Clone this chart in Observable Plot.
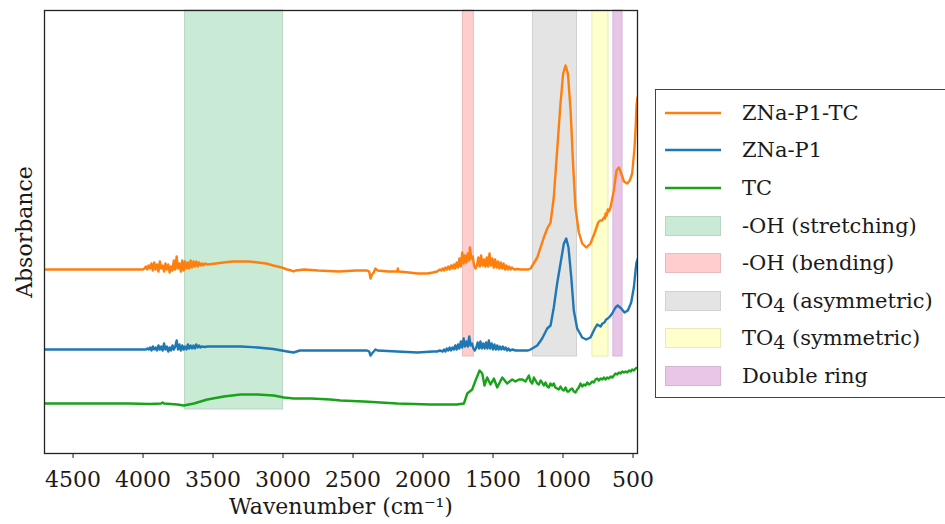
<!DOCTYPE html>
<html>
<head>
<meta charset="utf-8">
<script src="https://cdn.jsdelivr.net/npm/d3@7"></script>
<script src="https://cdn.jsdelivr.net/npm/@observablehq/plot@0.6"></script>
<style>
  html, body { margin: 0; padding: 0; background: #fff; overflow: hidden; }
  #wrap { position: relative; width: 945px; height: 524px; overflow: hidden; }
  #legend { position: absolute; left: 655px; top: 89px; width: 320px; height: 309px;
    border: 1.5px solid #444; background: #fff; box-sizing: border-box; padding-top: 4px;
    font-family: "DejaVu Serif", serif; font-size: 21px; color: #1a1a1a; }
  .entry { height: 37.6px; display: flex; align-items: center; }
  .entry svg { margin-left: 9px; margin-right: 21px; flex: none; }
  .entry sub { font-size: 0.9em; vertical-align: -0.22em; line-height: 0; }
</style>
</head>
<body>
<div id="wrap"><div id="chart"></div><div id="legend"></div></div>
<script>
// ---- Data (wavenumber cm^-1, absorbance a.u., offset spectra) ----
const seriesNames = ["ZNa-P1-TC", "ZNa-P1", "TC"];
const seriesColors = ["#ff7f0e", "#1f77b4", "#18a318"];

const znaP1TC = [
  [4704,1.84],[4000,1.84],
  [3990,1.85],[3980,1.87],[3970,1.84],[3960,1.88],[3950,1.85],[3940,1.90],[3930,1.83],[3920,1.91],[3910,1.84],[3900,1.89],
  [3890,1.82],[3880,1.92],[3870,1.85],[3860,1.88],[3850,1.82],[3840,1.90],[3830,1.84],[3820,1.89],[3810,1.81],[3800,1.87],
  [3790,1.83],[3780,1.93],[3770,1.84],[3760,1.97],[3750,1.85],[3740,1.90],[3730,1.82],[3720,1.93],[3710,1.83],[3700,1.92],
  [3690,1.85],[3680,1.91],[3670,1.85],[3660,1.93],[3650,1.86],[3640,1.92],[3630,1.87],[3620,1.92],[3610,1.87],[3600,1.91],
  [3590,1.88],[3580,1.90],[3570,1.88],[3560,1.90],[3540,1.89],
  [3480,1.90],[3425,1.91],[3360,1.92],[3300,1.92],[3240,1.92],[3180,1.91],[3120,1.90],[3070,1.88],[3010,1.86],[2970,1.84],
  [2940,1.83],[2925,1.82],[2910,1.83],[2850,1.84],[2750,1.83],[2600,1.82],[2480,1.83],[2400,1.83],[2385,1.82],[2375,1.75],
  [2365,1.79],[2352,1.81],[2340,1.85],[2325,1.83],[2250,1.82],[2185,1.82],[2180,1.85],[2175,1.82],[2100,1.81],[2040,1.80],
  [1970,1.80],[1930,1.81],
  [1900,1.82],[1880,1.84],[1870,1.83],[1860,1.85],[1850,1.83],[1840,1.86],[1830,1.84],[1820,1.87],[1810,1.84],[1800,1.88],
  [1790,1.85],[1780,1.89],[1770,1.85],[1760,1.91],[1750,1.86],[1740,1.95],[1730,1.87],[1720,2.01],[1710,1.90],[1700,1.98],
  [1690,1.91],[1680,2.00],[1670,1.93],[1665,2.06],[1655,1.95],[1645,1.97],[1635,1.88],[1625,1.85],[1615,1.88],[1605,1.96],
  [1595,1.87],[1585,1.98],[1575,1.88],[1565,1.94],[1555,1.87],[1545,1.96],[1535,1.87],[1525,2.00],[1515,1.88],[1505,1.95],
  [1495,1.86],[1485,1.94],[1475,1.86],[1465,1.92],[1455,1.85],[1445,1.91],[1435,1.85],[1425,1.90],[1415,1.84],[1405,1.88],
  [1395,1.84],[1385,1.87],[1375,1.84],[1365,1.86],[1350,1.84],[1330,1.845],[1300,1.84],[1250,1.84],
  [1232,1.85],[1184,1.96],[1137,2.16],[1113,2.25],[1089,2.31],[1066,2.56],[1042,3.03],[1018,3.50],[999,3.80],[982,3.88],
  [965,3.80],[946,3.43],[927,2.86],[911,2.46],[887,2.21],[863,2.10],[834,2.06],[804,2.10],[773,2.21],[749,2.31],
  [735,2.33],[720,2.33],[708,2.36],[700,2.35],[696,2.40],[688,2.38],[680,2.44],[672,2.42],[661,2.46],[637,2.63],
  [618,2.83],[601,2.86],[584,2.80],[565,2.72],[541,2.70],[523,2.73],[506,2.80],[489,3.06],[480,3.30],[475,3.48],[468,3.56]
];

const znaP1 = [
  [4704,1.04],[3980,1.04],
  [3970,1.05],[3960,1.04],[3950,1.06],[3940,1.03],[3930,1.07],[3920,1.04],[3910,1.06],[3900,1.03],[3890,1.08],[3880,1.04],
  [3870,1.07],[3860,1.03],[3850,1.10],[3840,1.04],[3830,1.07],[3820,1.02],[3810,1.06],[3800,1.03],[3790,1.08],[3780,1.04],
  [3770,1.07],[3760,1.13],[3750,1.04],[3740,1.09],[3730,1.03],[3720,1.08],[3710,1.04],[3700,1.07],[3690,1.04],[3680,1.09],
  [3670,1.05],[3660,1.08],[3650,1.05],[3640,1.08],[3630,1.05],[3620,1.09],[3610,1.06],[3600,1.08],[3590,1.06],[3580,1.07],
  [3560,1.065],[3540,1.07],
  [3480,1.07],[3425,1.07],[3300,1.07],[3180,1.06],[3070,1.045],[2970,1.02],[2925,1.01],[2880,1.03],[2750,1.03],[2600,1.03],
  [2400,1.03],[2385,1.02],[2375,0.98],[2365,1.00],[2352,1.02],[2340,1.04],[2325,1.03],[2185,1.02],[2040,1.01],[1930,1.02],
  [1900,1.02],[1880,1.03],[1860,1.02],[1850,1.04],[1840,1.02],[1830,1.05],[1820,1.03],[1810,1.06],[1800,1.03],[1790,1.06],
  [1780,1.04],[1770,1.08],[1760,1.04],[1750,1.09],[1740,1.05],[1730,1.12],[1720,1.06],[1710,1.15],[1700,1.07],[1690,1.12],
  [1680,1.07],[1670,1.17],[1660,1.08],[1650,1.10],[1640,1.05],[1630,1.03],[1620,1.06],[1610,1.11],[1600,1.05],[1590,1.12],
  [1580,1.05],[1570,1.10],[1560,1.05],[1550,1.11],[1540,1.05],[1530,1.13],[1520,1.05],[1510,1.10],[1500,1.04],[1490,1.09],
  [1480,1.04],[1470,1.08],[1460,1.04],[1450,1.07],[1440,1.04],[1430,1.07],[1420,1.04],[1410,1.06],[1400,1.03],[1390,1.05],
  [1380,1.03],[1360,1.04],[1340,1.03],[1300,1.03],[1250,1.03],
  [1232,1.04],[1184,1.08],[1149,1.15],[1113,1.25],[1089,1.28],[1066,1.46],[1042,1.70],[1018,1.90],[994,2.10],[977,2.15],
  [961,2.06],[941,1.76],[923,1.43],[899,1.25],[863,1.16],[834,1.14],[804,1.16],[773,1.25],[756,1.29],[744,1.28],
  [732,1.27],[718,1.30],[704,1.31],[692,1.34],[680,1.35],[665,1.37],[649,1.40],[625,1.46],[609,1.48],[584,1.45],
  [561,1.41],[537,1.43],[513,1.51],[494,1.66],[482,1.83],[475,1.91],[468,1.94]
];

const tc = [
  [4704,0.50],[4100,0.50],[3950,0.495],[3870,0.50],[3860,0.51],[3850,0.50],[3756,0.49],[3709,0.48],[3637,0.50],[3541,0.54],
  [3423,0.57],[3304,0.59],[3184,0.59],[3066,0.58],[2994,0.56],[2923,0.55],[2800,0.55],[2661,0.54],[2589,0.53],[2423,0.52],
  [2184,0.50],[1946,0.49],[1756,0.49],[1708,0.50],[1684,0.60],[1649,0.64],[1625,0.73],[1596,0.83],[1577,0.80],[1561,0.68],
  [1542,0.76],[1518,0.69],[1494,0.75],[1470,0.66],[1434,0.76],[1399,0.70],[1363,0.74],[1340,0.72],[1315,0.74],[1291,0.74],
  [1268,0.72],[1244,0.78],[1232,0.72],[1220,0.70],[1208,0.76],[1196,0.73],[1184,0.70],[1173,0.69],[1160,0.73],[1150,0.71],
  [1137,0.68],[1125,0.71],[1113,0.67],[1101,0.66],[1090,0.70],[1078,0.68],[1066,0.70],[1055,0.66],[1042,0.65],[1030,0.64],
  [1018,0.67],[1006,0.64],[994,0.63],[982,0.66],[970,0.62],[959,0.62],[947,0.64],[935,0.65],[923,0.62],[911,0.61],
  [899,0.64],[887,0.66],[875,0.70],[863,0.67],[851,0.69],[839,0.68],[827,0.71],[815,0.69],[804,0.70],[792,0.72],
  [780,0.71],[768,0.74],[756,0.75],[744,0.73],[732,0.75],[720,0.74],[708,0.76],[696,0.74],[684,0.76],[672,0.75],
  [660,0.77],[648,0.76],[637,0.78],[625,0.80],[613,0.79],[601,0.81],[589,0.80],[577,0.82],[565,0.81],[553,0.82],
  [541,0.81],[529,0.83],[517,0.82],[506,0.84],[494,0.83],[482,0.85],[468,0.86]
];

const regionNames = ["-OH (stretching)", "-OH (bending)", "TO\u2084 (asymmetric)", "TO\u2084 (symmetric)", "Double ring"];
const regionFrom = [3700, 1715, 1215, 790, 640];
const regionTo = [3000, 1637, 900, 675, 575];
const regionBase = [0.44, 0.97, 0.97, 0.97, 0.97];
const regionColors = ["#c9ebd5", "#ffcdcd", "#e4e4e4", "#ffffcc", "#e9c6e8"];

const xTicks = [4500, 4000, 3500, 3000, 2500, 2000, 1500, 1000, 500];
const xDomain = [4704, 468];
const yDomain = [0, 4.43];

// ---- Chart ----
const regionIdx = d3.range(regionNames.length);
const seriesData = [znaP1TC, znaP1, tc];

const chart = Plot.plot({
  width: 945, height: 524,
  marginLeft: 44, marginRight: 308, marginTop: 10, marginBottom: 71,
  style: { fontFamily: "DejaVu Serif, serif", fontSize: "22px", color: "#1a1a1a", background: "white" },
  x: { domain: xDomain, ticks: xTicks, tickFormat: d => String(d), tickSize: 5, tickPadding: 13, label: null },
  y: { domain: yDomain, axis: null },
  marks: [
    Plot.rect(regionIdx, {
      x1: i => regionFrom[i], x2: i => regionTo[i],
      y1: i => regionBase[i], y2: yDomain[1],
      fill: i => regionColors[i],
      stroke: i => d3.color(regionColors[i]).darker(0.25).formatHex(),
      strokeWidth: 1
    }),
    ...[2, 1, 0].map(k => Plot.line(seriesData[k], {
      x: d => d[0], y: d => d[1], stroke: seriesColors[k], strokeWidth: 2.4, clip: true
    })),
    Plot.frame({ stroke: "#222", strokeWidth: 1.3 }),
    Plot.text(["Absorbance"], { frameAnchor: "left", textAnchor: "middle", rotate: -90, dx: -20, fontSize: 22, fill: "#1a1a1a" }),
    Plot.text(["Wavenumber (cm\u207B\u00B9)"], { frameAnchor: "bottom", dy: 60, fontSize: 22, fill: "#1a1a1a" })
  ]
});
document.getElementById("chart").appendChild(chart);

// ---- Legend ----
const legend = document.getElementById("legend");
const entries = [
  ...seriesNames.map((n, k) => ({ name: n, type: "line", color: seriesColors[k] })),
  ...regionNames.map((n, i) => ({ name: n, type: "rect", color: regionColors[i] }))
];
entries.forEach(e => {
  const row = document.createElement("div");
  row.className = "entry";
  const sw = e.type === "line"
    ? `<svg width="56" height="20"><line x1="0" x2="56" y1="10" y2="10" stroke="${e.color}" stroke-width="2.4"/></svg>`
    : `<svg width="56" height="20"><rect x="0.5" y="0.5" width="55" height="19" fill="${e.color}" stroke="${d3.color(e.color).darker(0.25).formatHex()}"/></svg>`;
  const label = document.createElement("span");
  label.innerHTML = e.name.replace("\u2084", "<sub>4</sub>");
  row.innerHTML = sw;
  row.appendChild(label);
  legend.appendChild(row);
});
</script>
</body>
</html>
